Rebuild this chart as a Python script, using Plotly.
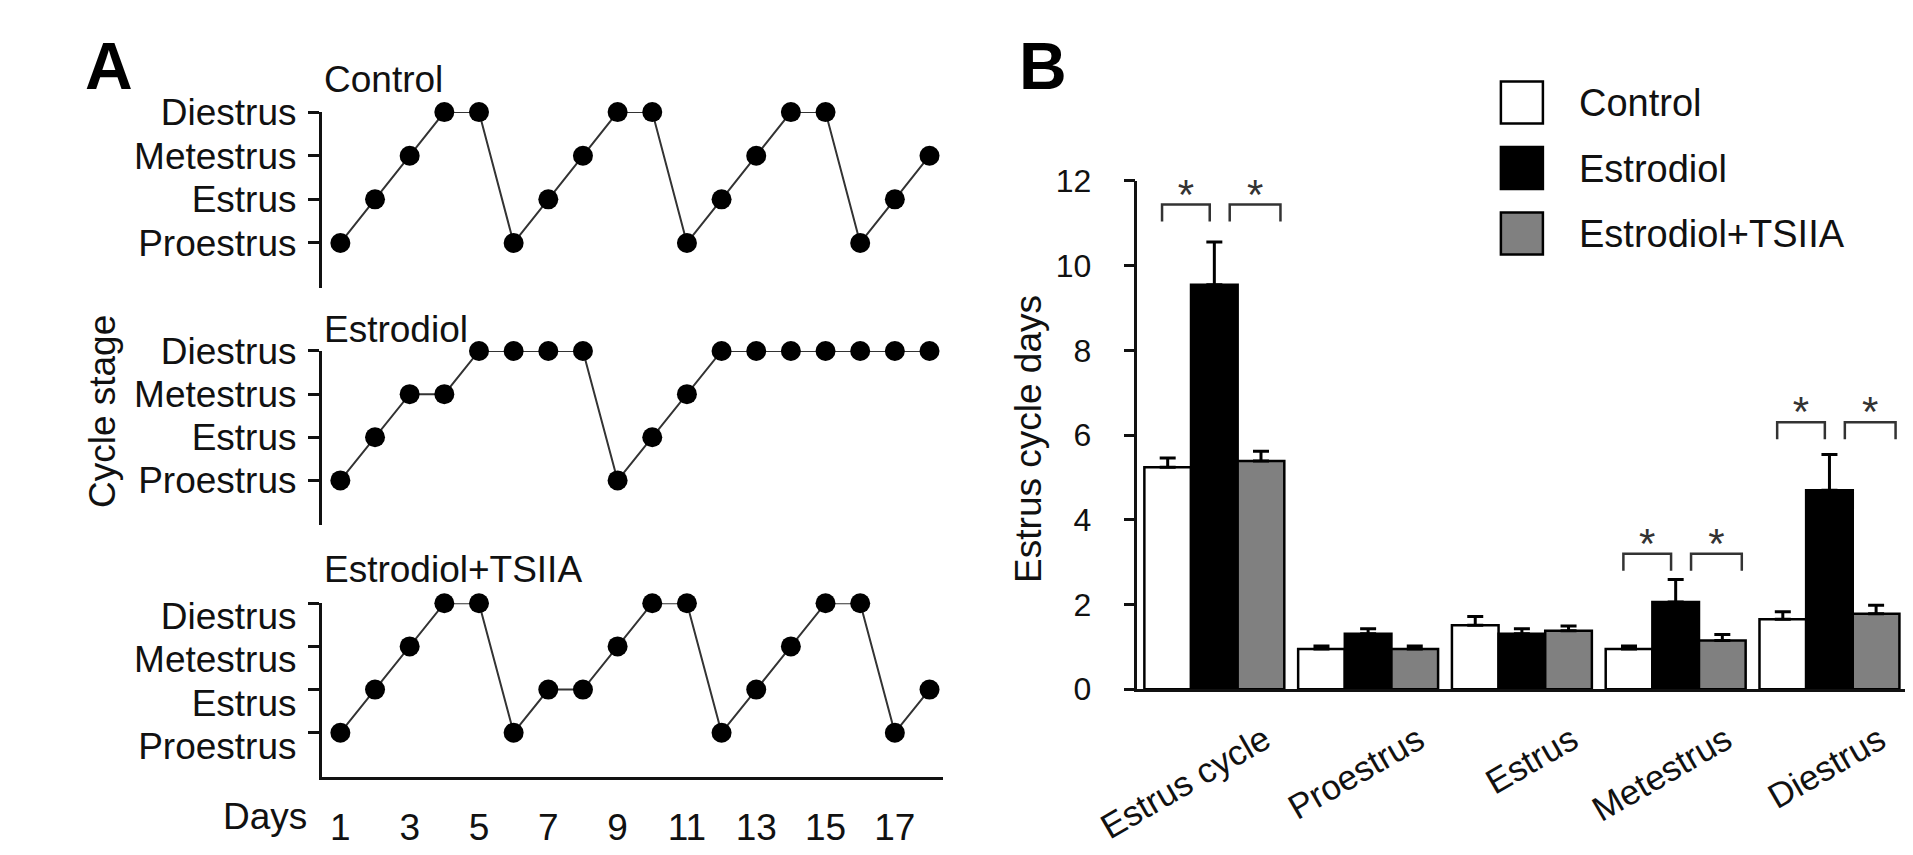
"""
Two-panel figure: (A) daily estrous-cycle stage for one animal per group,
(B) mean days spent in each stage with SEM and significance brackets.
"""

import plotly.graph_objects as go

# ── Panel A data: stage per day (1=Proestrus, 2=Estrus, 3=Metestrus, 4=Diestrus)
days = [1, 2, 3, 4, 5, 6, 7, 8, 9, 10, 11, 12, 13, 14, 15, 16, 17, 18]
day_ticks = [1, 3, 5, 7, 9, 11, 13, 15, 17]
stage_codes = [1, 2, 3, 4]
stage_names = ["Proestrus", "Estrus", "Metestrus", "Diestrus"]

control_stages = [1, 2, 3, 4, 4, 1, 2, 3, 4, 4, 1, 2, 3, 4, 4, 1, 2, 3]
estrodiol_stages = [1, 2, 3, 3, 4, 4, 4, 4, 1, 2, 3, 4, 4, 4, 4, 4, 4, 4]
tsiia_stages = [1, 2, 3, 4, 4, 1, 2, 2, 3, 4, 4, 1, 2, 3, 4, 4, 1, 2]

# ── Panel B data: days in each phase, mean and SEM
groups = ["Control", "Estrodiol", "Estrodiol+TSIIA"]
group_colours = ["white", "black", "#808080"]
phases = ["Estrus cycle", "Proestrus", "Estrus", "Metestrus", "Diestrus"]

control_mean = [5.24, 0.95, 1.51, 0.95, 1.65]
control_sem = [0.22, 0.07, 0.21, 0.07, 0.18]
estrodiol_mean = [9.55, 1.31, 1.31, 2.06, 4.70]
estrodiol_sem = [1.01, 0.12, 0.12, 0.53, 0.84]
tsiia_mean = [5.39, 0.95, 1.38, 1.15, 1.78]
tsiia_sem = [0.23, 0.07, 0.11, 0.14, 0.20]

sig_phases = ["Estrus cycle", "Metestrus", "Diestrus"]
sig_heights = [11.44, 3.2, 6.3]
b_ticks = [0, 2, 4, 6, 8, 10, 12]

W, H = 1913, 855
FONT = "Arial, Liberation Sans, sans-serif"
INK = "#111111"


def px(x):
    return x / W


def py(y):
    return 1 - y / H


fig = go.Figure()

# ── Panel A: three stacked stage traces ──────────────────────────────────────
panel_a = [
    ("Control", control_stages, "x", "y", 88, 272, 54),
    ("Estrodiol", estrodiol_stages, "x2", "y2", 338, 520, 315),
    ("Estrodiol+TSIIA", tsiia_stages, "x3", "y3", 602, 784, 567),
]

for name, stages, xa, ya, top, bottom, title_y in panel_a:
    fig.add_trace(
        go.Scatter(
            x=days,
            y=stages,
            mode="lines+markers",
            marker=dict(color="black", size=20),
            line=dict(color="#333333", width=2),
            cliponaxis=False,
            name=name,
            xaxis=xa,
            yaxis=ya,
        )
    )
    fig.add_annotation(
        x=px(276), y=py(title_y), xref="paper", yref="paper",
        text=name, showarrow=False, xanchor="left", yanchor="middle",
        font=dict(size=37, color=INK),
    )

a_xaxis = dict(range=[0.46, 18.39], domain=[px(276), px(912)], showgrid=False, zeroline=False)
a_yaxis = dict(
    range=[-0.03, 4],
    tickvals=stage_codes,
    ticktext=stage_names,
    showline=True,
    linewidth=2.5,
    linecolor=INK,
    ticks="outside",
    ticklen=11,
    tickwidth=2.5,
    tickcolor=INK,
    ticklabelstandoff=4,
    showgrid=False,
    zeroline=False,
    tickfont=dict(size=37, color=INK),
)

for i, (name, stages, xa, ya, top, bottom, title_y) in enumerate(panel_a):
    xkey = "xaxis" if xa == "x" else "xaxis" + xa[1:]
    ykey = "yaxis" if ya == "y" else "yaxis" + ya[1:]
    last = i == len(panel_a) - 1
    xa_opts = dict(a_xaxis, anchor=ya)
    if last:
        xa_opts.update(
            showline=True, linewidth=2.5, linecolor=INK,
            tickvals=day_ticks, ticks="", ticklabelstandoff=16,
            tickfont=dict(size=37, color=INK),
        )
    else:
        xa_opts.update(visible=False)
    ya_opts = dict(a_yaxis, anchor=xa, domain=[py(bottom), py(top)])
    if last:
        ya_opts.update(ticklabelshift=13)
    fig.update_layout({xkey: xa_opts, ykey: ya_opts})

# ── Panel B: grouped bars with one-sided error bars ──────────────────────────
positions = list(range(len(phases)))
means = [control_mean, estrodiol_mean, tsiia_mean]
sems = [control_sem, estrodiol_sem, tsiia_sem]

for name, colour, mean, sem in zip(groups, group_colours, means, sems):
    fig.add_trace(
        go.Bar(
            x=positions,
            y=mean,
            name=name,
            marker=dict(color=colour, line=dict(color="black", width=2.5)),
            error_y=dict(
                type="data", array=sem, arrayminus=[0] * len(sem),
                symmetric=False, color="black", thickness=3, width=8,
            ),
            xaxis="x4",
            yaxis="y4",
        )
    )

# significance brackets and asterisks
bracket_x, bracket_y, star_x, star_y = [], [], [], []
for phase, level in zip(sig_phases, sig_heights):
    c = phases.index(phase)
    for lo, hi in [(-0.34, -0.03), (0.10, 0.43)]:
        bracket_x += [c + lo, c + lo, c + hi, c + hi, None]
        bracket_y += [level - 0.4, level, level, level - 0.4, None]
        star_x.append(c + (lo + hi) / 2)
        star_y.append(level + 0.15)

fig.add_trace(
    go.Scatter(
        x=bracket_x, y=bracket_y, mode="lines",
        line=dict(color="#333333", width=2.5),
        cliponaxis=False, xaxis="x4", yaxis="y4",
    )
)
fig.add_trace(
    go.Scatter(
        x=star_x, y=star_y, mode="text", text=["*"] * len(star_x),
        textposition="middle center",
        textfont=dict(size=42, color="#333333", family=FONT),
        cliponaxis=False, xaxis="x4", yaxis="y4",
    )
)

fig.update_layout(
    xaxis4=dict(
        anchor="y4",
        domain=[px(1111), px(1898)],
        range=[-0.5, 4.5],
        tickvals=positions,
        ticktext=phases,
        tickangle=-30,
        ticks="",
        ticklabelshift=50,
        ticklabelstandoff=14,
        showline=True,
        linewidth=2.5,
        linecolor=INK,
        showgrid=False,
        zeroline=False,
        tickfont=dict(size=35, color=INK),
    ),
    yaxis4=dict(
        anchor="x4",
        domain=[py(692), py(160)],
        range=[0, 12],
        tickvals=b_ticks,
        showline=True,
        linewidth=2.5,
        linecolor=INK,
        ticks="outside",
        ticklen=11,
        tickwidth=2.5,
        tickcolor=INK,
        ticklabelstandoff=26,
        showgrid=False,
        zeroline=False,
        tickfont=dict(size=32, color=INK),
    ),
)

# ── Legend drawn by hand (large square swatches) ─────────────────────────────
for i, (name, colour) in enumerate(zip(groups, group_colours)):
    cy = 78 + i * 68.5
    fig.add_shape(
        type="rect", xref="paper", yref="paper",
        x0=px(1483), x1=px(1526), y0=py(cy + 22), y1=py(cy - 22),
        fillcolor=colour, line=dict(color="black", width=2.5),
    )
    fig.add_annotation(
        x=px(1561), y=py(cy + 1), xref="paper", yref="paper",
        text=name, showarrow=False, xanchor="left", yanchor="middle",
        font=dict(size=38, color=INK),
    )

# ── Panel letters and axis titles ────────────────────────────────────────────
for letter, x in [("A", 32), ("B", 988)]:
    fig.add_annotation(
        x=px(x), y=py(40), xref="paper", yref="paper",
        text=f"<b>{letter}</b>", showarrow=False, xanchor="left", yanchor="middle",
        font=dict(size=66, color="black"),
    )

fig.add_annotation(
    x=px(28), y=py(401), xref="paper", yref="paper", text="Cycle stage",
    showarrow=False, textangle=-90, font=dict(size=37, color=INK),
)
fig.add_annotation(
    x=px(263), y=py(825), xref="paper", yref="paper", text="Days",
    showarrow=False, xanchor="right", yanchor="middle", font=dict(size=37, color=INK),
)
fig.add_annotation(
    x=px(1000), y=py(430), xref="paper", yref="paper", text="Estrus cycle days",
    showarrow=False, textangle=-90, font=dict(size=37, color=INK),
)

fig.update_layout(
    width=W,
    height=H,
    margin=dict(l=0, r=0, t=0, b=0),
    paper_bgcolor="white",
    plot_bgcolor="white",
    showlegend=False,
    barmode="group",
    bargap=0.09,
    bargroupgap=0,
    font=dict(family=FONT, color=INK),
)

fig.write_html("out.html")
